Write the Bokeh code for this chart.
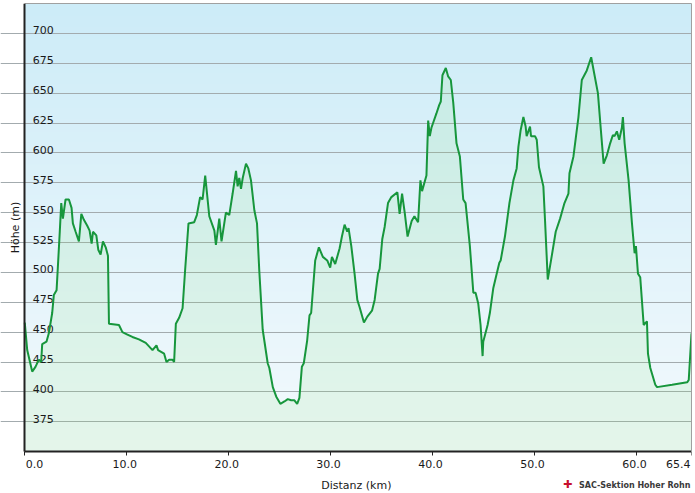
import numpy as np
from bokeh.plotting import figure
from bokeh.models import FixedTicker, Range1d, LinearAxis
from bokeh.core.properties import value
from bokeh.embed import file_html
from bokeh.resources import INLINE

# ---- data ----
dist_km = [0.0, 0.24, 0.73, 1.05, 1.38, 1.61, 1.71, 2.13, 2.36, 2.69, 2.85, 3.12, 3.25, 3.44,
           3.58, 3.74, 4.0, 4.33, 4.59, 4.72, 4.99, 5.31, 5.55, 5.8, 6.13, 6.36, 6.56, 6.69,
           7.02, 7.21, 7.44, 7.67, 7.94, 8.16, 8.26, 9.24, 9.58, 10.07, 10.56, 11.2, 11.87,
           12.53, 12.92, 13.08, 13.67, 13.9, 14.16, 14.49, 14.65, 14.82, 15.14, 15.48, 15.73,
           16.06, 16.62, 16.88, 17.2, 17.44, 17.7, 18.1, 18.6, 18.75, 19.08, 19.3, 19.73,
           20.06, 20.39, 20.72, 20.88, 21.04, 21.21, 21.38, 21.7, 21.93, 22.19, 22.52, 22.78,
           23.0, 23.34, 23.83, 23.99, 24.33, 24.67, 25.07, 25.47, 25.8, 26.13, 26.45, 26.72,
           26.94, 27.18, 27.37, 27.7, 27.93, 28.09, 28.49, 28.85, 29.24, 29.67, 29.96, 30.13,
           30.45, 30.88, 31.11, 31.37, 31.63, 31.76, 32.03, 32.35, 32.62, 32.84, 33.27, 33.6,
           34.06, 34.32, 34.65, 34.81, 35.07, 35.3, 35.63, 35.96, 36.55, 36.77, 37.01, 37.27,
           37.55, 37.95, 38.22, 38.58, 38.81, 38.97, 39.4, 39.57, 39.73, 39.89, 40.38, 40.65,
           40.81, 40.97, 41.3, 41.53, 41.79, 42.03, 42.35, 42.68, 43.01, 43.24, 43.66, 44.0,
           44.22, 44.48, 44.71, 44.91, 44.97, 45.4, 45.62, 45.96, 46.21, 46.55, 46.68, 47.1,
           47.54, 47.93, 48.25, 48.42, 48.64, 48.91, 49.13, 49.23, 49.56, 49.66, 50.05, 50.22,
           50.44, 50.87, 51.03, 51.3, 51.62, 52.08, 52.51, 52.94, 53.33, 53.43, 53.82, 54.31,
           54.64, 55.13, 55.56, 55.89, 56.22, 56.51, 56.78, 57.1, 57.42, 57.69, 57.85, 58.08,
           58.31, 58.57, 58.67, 58.84, 59.23, 59.56, 59.82, 59.95, 60.15, 60.37, 60.71, 61.03,
           61.13, 61.36, 61.85, 62.02, 63.5, 64.97, 65.13, 65.4]
elev_m = [458, 435, 417, 421, 427, 425, 440, 442, 449, 466, 481, 485, 505, 535,
          558, 545, 561, 561, 554, 541, 534, 526, 549, 544, 539, 535, 524, 534,
          531, 519, 515, 526, 521, 514, 457, 456, 450, 448, 446, 444, 441,
          435, 439, 435, 432, 425, 427, 427, 425, 457, 462, 470, 502,
          541, 542, 548, 563, 561, 581, 547, 535, 523, 545, 526, 550,
          548, 566, 585, 572, 579, 570, 579, 591, 587, 577, 552, 541,
          502, 452, 424, 420, 404, 396, 390, 392, 394, 393, 393, 390,
          395, 421, 424, 443, 464, 466, 510, 521, 513, 510, 504, 513,
          507, 520, 530, 540, 534, 537, 522, 499, 477, 471, 458, 463,
          468, 477, 499, 503, 528, 538, 558, 563, 567, 549, 566, 550,
          530, 543, 547, 542, 577, 568, 581, 627, 614, 621, 633, 640,
          643, 665, 671, 664, 661, 642, 608, 597, 561, 558, 522, 483,
          483, 474, 456, 430, 442, 456, 466, 487, 496, 508, 510, 530,
          558, 577, 587, 605, 619, 630, 622, 614, 622, 614, 614, 611,
          588, 572, 544, 494, 510, 534, 545, 558, 566, 583, 597, 630,
          661, 669, 680, 665, 650, 619, 591, 598, 608, 615, 614, 618,
          611, 621, 630, 608, 577, 541, 516, 522, 499, 496, 456, 459,
          432, 420, 406, 404, 406, 408, 410, 449]

y_ticks = [375, 400, 425, 450, 475, 500, 525, 550, 575, 600, 625, 650, 675, 700]
y_tick_labels = ["375", "400", "425", "450", "475", "500", "525", "550", "575",
                 "600", "625", "650", "675", "700"]
x_ticks = [0, 10, 20, 30, 40, 50, 60, 65.4]
x_tick_labels = ["0.0", "10.0", "20.0", "30.0", "40.0", "50.0", "60.0", "65.4"]
x_title = "Distanz  (km)"
y_title = "Höhe (m)"
credit = "SAC-Sektion Hoher Rohn"

BASE, TOP = 350, 725          # elevation axis extent
FRAME_LOW = 315               # frame continues below the x axis for its labels
X_LOW = -2.38                 # frame continues left of the y axis for its title
FONT = "DejaVu Sans"
X_START, X_END = x_ticks[0], x_ticks[-1]
TXT = "#1a1a1a"

p = figure(width=695, height=493, output_backend="svg", toolbar_location=None,
           x_range=Range1d(X_LOW, X_END), y_range=Range1d(FRAME_LOW, TOP),
           min_border_left=0, min_border_right=4, min_border_top=3, min_border_bottom=0,
           background_fill_color="white", border_fill_color="white")
p.outline_line_color = None

# background gradient (light blue at top -> near white at bottom)
n = 400
t = np.linspace(0.0, 1.0, n)
bottom = np.array([244, 250, 253], dtype=float)
top = np.array([205, 236, 248], dtype=float)
cols = bottom[None, :] * (1 - t[:, None]) + top[None, :] * t[:, None]
img = np.zeros((n, 1), dtype=np.uint32)
view = img.view(dtype=np.uint8).reshape((n, 1, 4))
view[:, 0, 0] = cols[:, 0].astype(np.uint8)
view[:, 0, 1] = cols[:, 1].astype(np.uint8)
view[:, 0, 2] = cols[:, 2].astype(np.uint8)
view[:, 0, 3] = 255
p.image_rgba(image=[img], x=X_START, y=BASE, dw=X_END - X_START, dh=TOP - BASE, level="image")

# area under the profile
p.varea(x=dist_km, y1=BASE, y2=elev_m, fill_color="#78dc6e", fill_alpha=0.12)

# y tick labels drawn inside the plot area
p.text(x=[X_START] * len(y_ticks), y=y_ticks, text=y_tick_labels, x_offset=8, y_offset=-3,
       text_baseline="alphabetic", text_align="left", text_font=value(FONT),
       text_font_size="11px", text_color=TXT)

# profile line
p.line(dist_km, elev_m, line_color="#17963c", line_width=2)

# x tick labels below the axis (end labels kept inside, as in the reference)
lab_kw = dict(text_baseline="top", text_font=value(FONT), text_font_size="11px",
              text_color=TXT, y_offset=8)
p.text(x=x_ticks[:1], y=[BASE], text=x_tick_labels[:1], text_align="left", x_offset=1, **lab_kw)
p.text(x=x_ticks[1:-1], y=[BASE] * (len(x_ticks) - 2), text=x_tick_labels[1:-1],
       text_align="center", x_offset=-2, **lab_kw)
p.text(x=x_ticks[-1:], y=[BASE], text=x_tick_labels[-1:], text_align="right", x_offset=-1, **lab_kw)

# axis titles
p.text(x=[(X_START + X_END) / 2], y=[BASE], text=[x_title], text_align="center",
       text_baseline="middle", y_offset=34, text_font=value(FONT), text_font_size="11px",
       text_color=TXT)
p.text(x=[X_START], y=[(BASE + TOP) / 2], text=[y_title], text_align="center",
       text_baseline="middle", x_offset=-9, angle=np.pi / 2, text_font=value(FONT),
       text_font_size="11px", text_color=TXT)

# credit logo
p.text(x=[X_END], y=[BASE], text=["✚"], text_align="center", text_baseline="middle",
       x_offset=-124, y_offset=33, text_font=value(FONT), text_font_size="11px",
       text_font_style="bold", text_color="#c8102e")
p.text(x=[X_END], y=[BASE], text=[credit], text_align="right", text_baseline="middle",
       x_offset=-1, y_offset=34, text_font=value(FONT), text_font_size="8px",
       text_font_style="bold", text_color="#3a3a3a")

# grid
p.xgrid.grid_line_color = None
p.ygrid.ticker = FixedTicker(ticks=y_ticks)
p.ygrid.bounds = (X_START, X_END)
p.ygrid.grid_line_color = "#a3abae"
p.ygrid.grid_line_width = 1

# y axis fixed at distance 0 (line only from the base up, no ticks)
p.yaxis.fixed_location = X_START
p.yaxis.ticker = FixedTicker(ticks=[])
p.yaxis.bounds = (BASE, TOP)
p.yaxis.major_label_standoff = 0
p.yaxis.major_tick_out = 0
p.yaxis.major_tick_in = 0
p.yaxis.minor_tick_line_color = None
p.yaxis.axis_line_width = 2
p.yaxis.axis_line_color = "#222222"

# x axis fixed at the base elevation; tick marks only (labels drawn as text)
p.xaxis.fixed_location = BASE
p.xaxis.ticker = FixedTicker(ticks=[], minor_ticks=x_ticks)
p.xaxis.bounds = (X_START, X_END)
p.xaxis.major_label_standoff = 0
p.xaxis.minor_tick_out = 4
p.xaxis.minor_tick_in = 0
p.xaxis.minor_tick_line_color = "#222222"
p.xaxis.minor_tick_line_width = 1
p.xaxis.axis_line_width = 2
p.xaxis.axis_line_color = "#222222"

# thin grey frame on top and right
for side, bounds in (("above", (X_START, X_END)), ("right", (BASE, TOP))):
    ax = LinearAxis(bounds=bounds, ticker=FixedTicker(ticks=[]), major_tick_in=0,
                    major_tick_out=0, minor_tick_line_color=None, major_label_standoff=0,
                    axis_line_color="#a0a0a0", axis_line_width=1)
    p.add_layout(ax, side)

open("out.html", "w").write(file_html(p, INLINE))
